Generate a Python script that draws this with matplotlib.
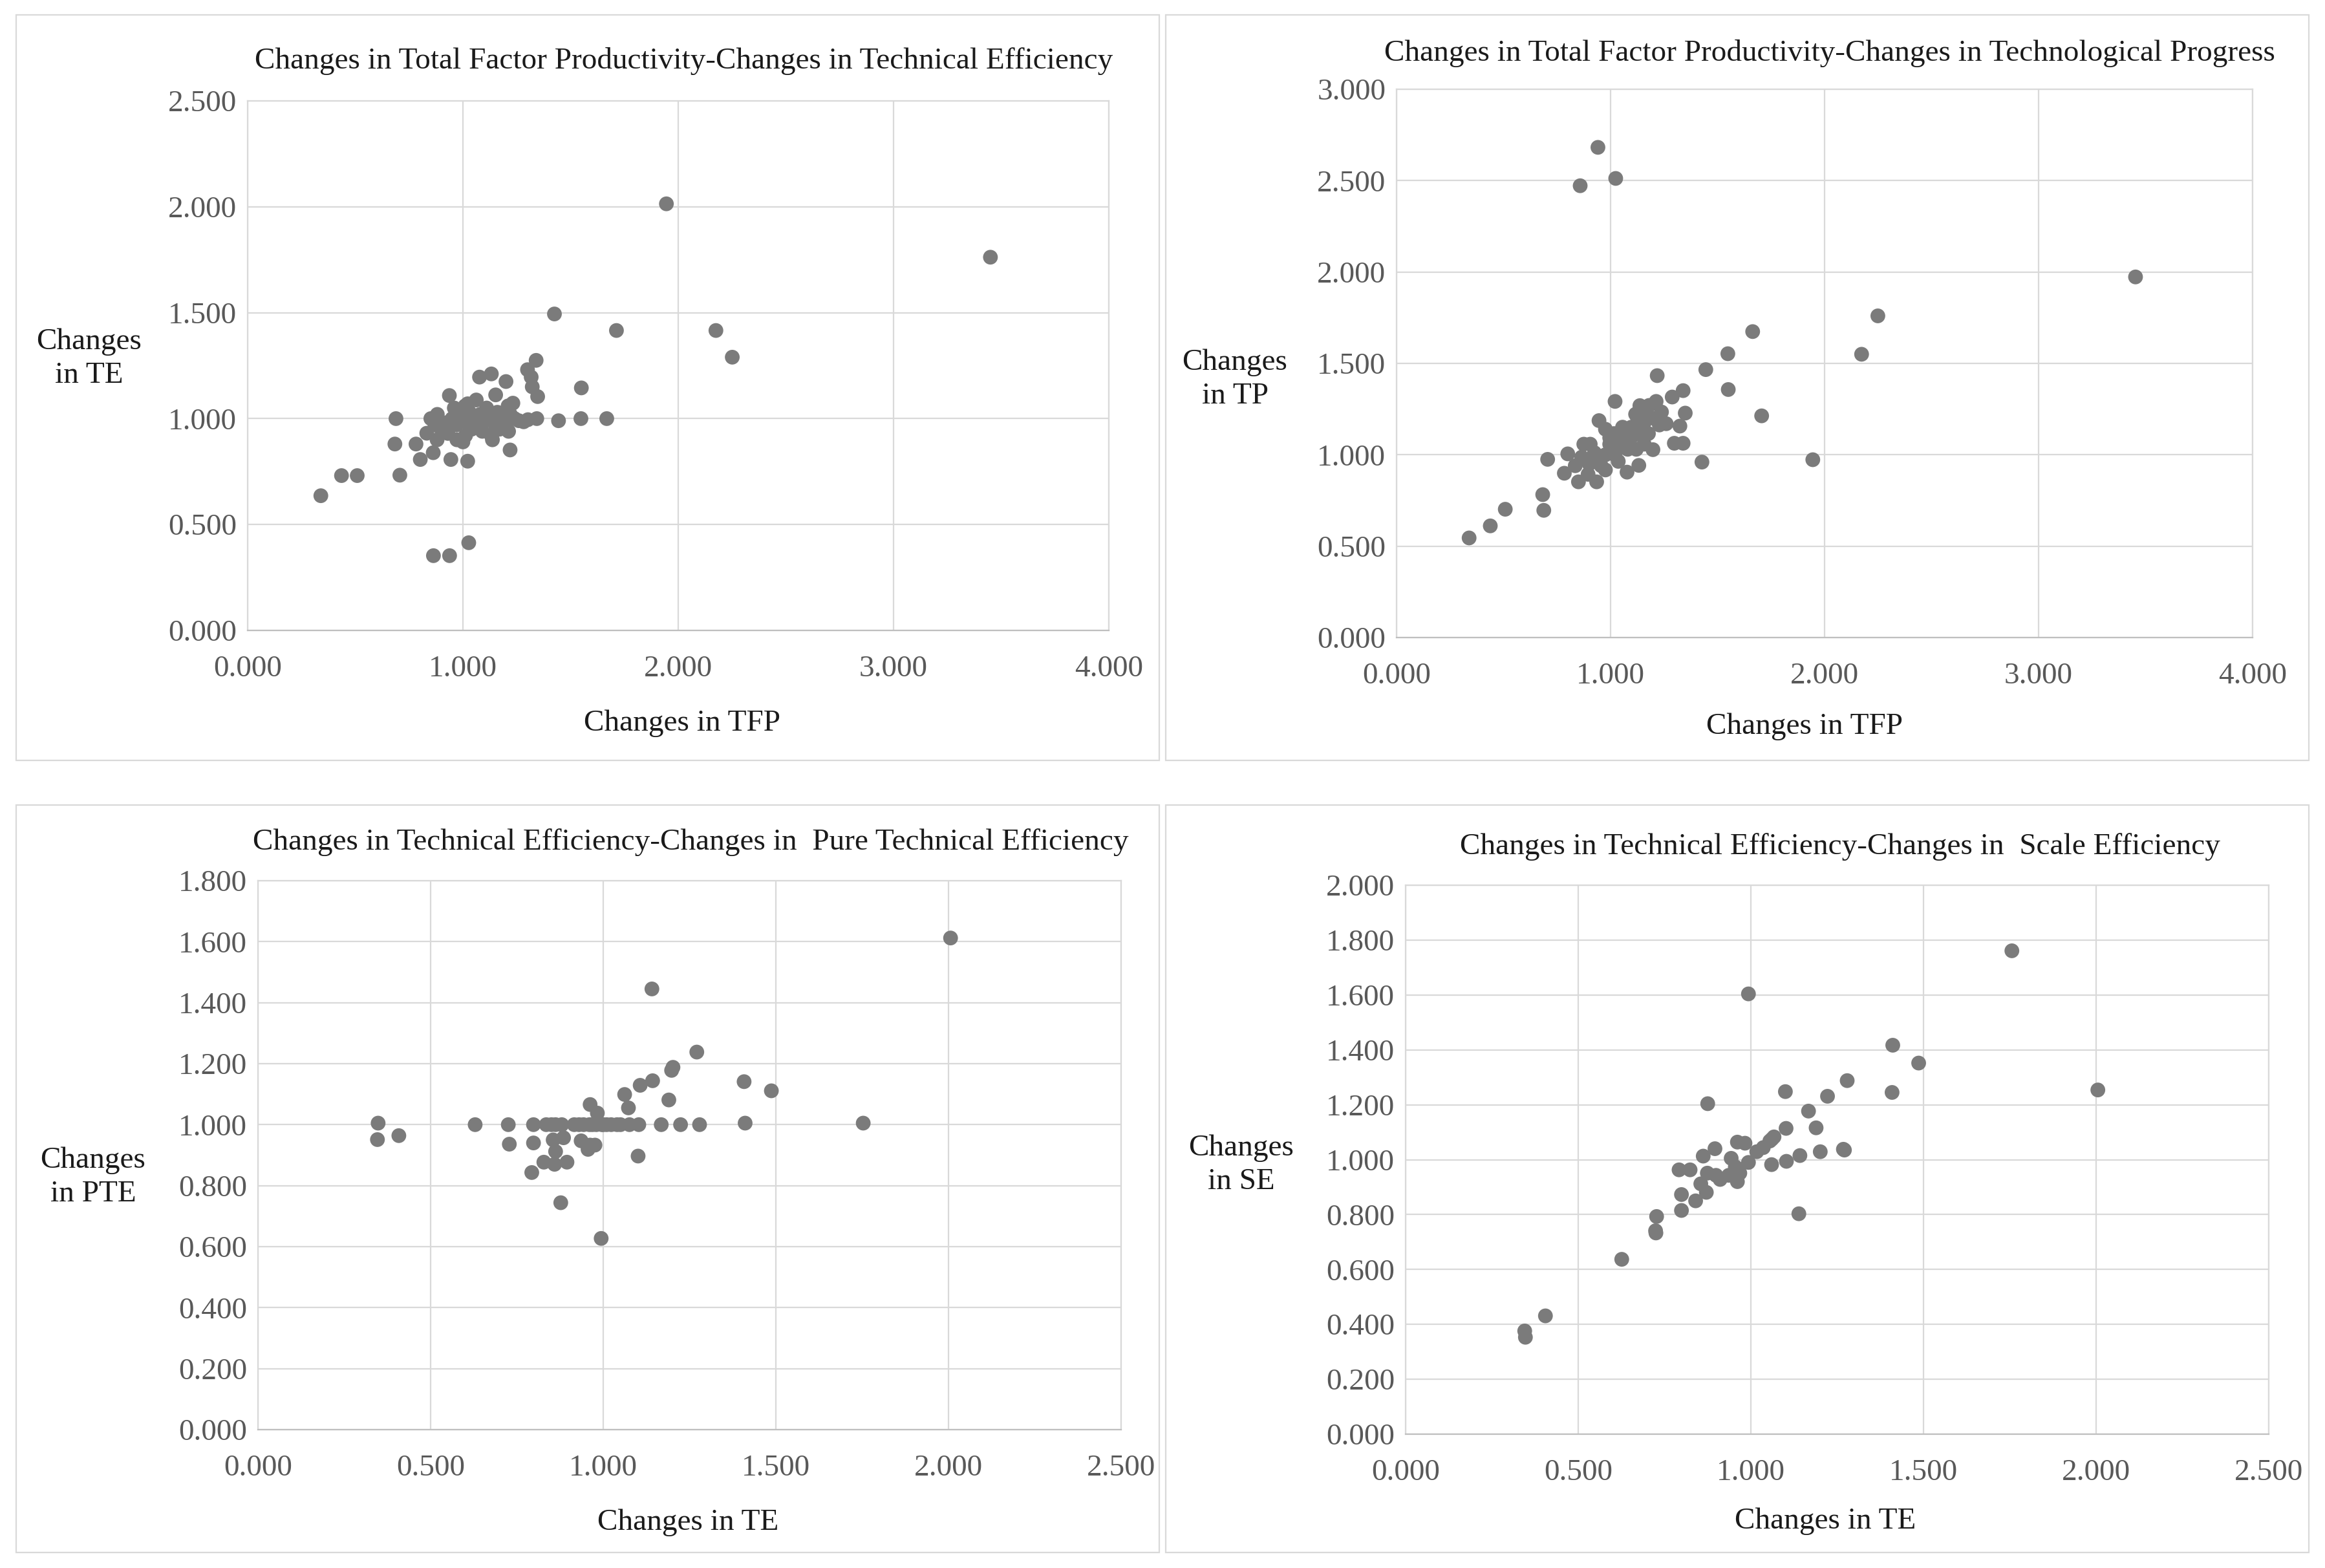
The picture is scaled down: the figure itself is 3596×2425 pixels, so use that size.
import matplotlib
matplotlib.use("Agg")
import matplotlib.pyplot as plt
from matplotlib.patches import Rectangle
from matplotlib.ticker import FormatStrFormatter, MultipleLocator

plt.rcParams['font.family'] = ['Liberation Serif', 'DejaVu Serif']

# ---------------- Data ----------------
# Panel 1: Changes in TFP (x) vs Changes in TE (y)
tfp_a = [3.450, 1.945, 2.175, 2.251, 1.713, 1.425,
         0.340, 0.436, 0.509, 0.707, 0.863, 0.938, 1.027,
         0.689, 0.684, 0.782, 0.802, 0.944, 1.022, 1.219, 0.862,
         1.340, 1.300, 1.317, 1.322, 1.347, 1.077, 1.132, 1.200, 1.550, 1.152, 0.937, 1.232, 1.062, 1.022,
         1.444, 1.548, 1.668, 1.343, 1.302, 1.282,
         0.832, 0.851, 0.881, 0.972, 1.000, 1.012, 1.132, 1.137, 1.212,
         0.90, 0.92, 0.95, 0.97, 0.98, 1.00, 1.02, 1.03, 1.05, 1.06, 1.08, 1.10, 1.11, 1.13, 1.15,
         1.16, 1.18, 1.20, 1.22, 1.24, 0.88, 0.93, 0.96, 1.04, 1.09, 1.17, 1.21, 1.26, 0.87, 1.01]
te_a = [1.762, 2.014, 1.416, 1.290, 1.416, 1.494,
        0.636, 0.731, 0.731, 0.733, 0.353, 0.353, 0.414,
        1.000, 0.880, 0.880, 0.807, 0.807, 0.799, 0.852, 0.839,
        1.275, 1.231, 1.196, 1.150, 1.104, 1.196, 1.211, 1.175, 1.145, 1.112, 1.109, 1.073, 1.088, 1.070,
        0.990, 1.000, 1.000, 1.000, 0.995, 0.985,
        0.931, 1.000, 1.020, 0.900, 0.890, 0.920, 0.920, 0.900, 0.940,
        0.95, 0.98, 1.00, 0.97, 1.02, 1.00, 0.98, 1.03, 1.00, 0.96, 1.02, 0.99, 1.05, 1.00, 0.97,
        1.03, 1.00, 0.98, 1.02, 1.00, 0.90, 0.93, 1.05, 0.95, 0.94, 0.95, 1.06, 0.99, 0.97, 1.06]

# Panel 2: Changes in TFP (x) vs Changes in TP (y)
tfp_b = [0.941, 0.858, 1.024, 3.453, 2.249, 2.173, 1.664, 1.548, 1.445, 1.550, 1.706, 1.945, 1.427, 1.218, 1.021,
         0.339, 0.438, 0.508, 0.683, 0.688, 0.706, 0.800, 0.784, 0.850, 0.935, 0.875, 0.905, 0.835, 0.895,
         0.956, 0.946, 0.976, 1.016, 1.036, 1.036, 1.077, 1.132, 1.137, 1.127, 1.137, 1.157, 1.198, 1.213,
         1.228, 1.238, 1.288, 1.339, 1.349, 1.324, 1.298, 1.339,
         0.976, 0.915, 0.996, 1.056, 1.097, 1.077, 0.976, 0.865, 0.925, 1.157, 1.177, 1.117, 1.056, 0.996,
         1.10, 1.16, 1.20, 1.08, 0.95, 1.02, 1.18, 1.15, 1.05, 0.90, 1.12, 1.26]
tp_b = [2.682, 2.472, 2.512, 1.973, 1.760, 1.550, 1.674, 1.553, 1.466, 1.357, 1.213, 0.973, 0.960, 1.433, 1.292,
        0.545, 0.611, 0.702, 0.782, 0.696, 0.975, 1.005, 0.899, 0.852, 0.852, 1.058, 1.058, 0.940, 0.893,
        0.940, 1.187, 1.140, 1.116, 1.034, 0.964, 0.905, 0.942, 1.269, 1.198, 1.116, 1.058, 1.028, 1.292,
        1.163, 1.234, 1.316, 1.351, 1.228, 1.157, 1.063, 1.063,
        1.000, 0.987, 1.058, 1.093, 1.151, 1.081, 0.917, 0.987, 1.011, 1.175, 1.116, 1.222, 1.151, 1.093,
        1.10, 1.24, 1.20, 1.03, 0.97, 1.00, 1.27, 1.15, 1.05, 0.95, 1.03, 1.17]

# Panel 3: Changes in TE (x) vs Changes in PTE (y)
te_c = [2.006, 1.141, 0.348, 0.346, 0.408, 1.753, 1.411, 1.408, 1.487, 0.629, 0.994,
        1.271, 1.202, 1.198, 1.143, 1.107, 1.062, 1.073, 1.190, 0.962, 0.983,
        0.725, 0.798, 0.835, 0.862, 0.916, 0.943, 0.969, 0.996, 1.023, 1.050, 1.076, 1.103, 1.168, 1.224, 1.279,
        0.850, 0.880, 0.930, 0.960, 0.980, 1.000, 1.010, 1.040,
        0.728, 0.798, 0.855, 0.885, 0.936, 0.962, 0.956, 0.976, 0.862, 0.828, 0.859, 0.895, 0.793, 1.101, 0.877]
pte_c = [1.612, 1.445, 1.005, 0.951, 0.964, 1.005, 1.005, 1.141, 1.111, 1.000, 0.627,
         1.238, 1.188, 1.178, 1.144, 1.129, 1.099, 1.055, 1.081, 1.066, 1.038,
         1.000, 1.000, 1.000, 1.000, 1.000, 1.000, 1.000, 1.000, 1.000, 1.000, 1.000, 1.000, 1.000, 1.000, 1.000,
         1.000, 1.000, 1.000, 1.000, 1.000, 1.000, 1.000, 1.000,
         0.936, 0.940, 0.950, 0.957, 0.947, 0.933, 0.919, 0.933, 0.912, 0.877, 0.870, 0.877, 0.843, 0.897, 0.744]

# Panel 4: Changes in TE (x) vs Changes in SE (y)
te_d = [1.756, 0.993, 1.411, 1.486, 1.409, 2.005, 0.626, 0.405, 0.345, 0.347, 0.727, 0.725, 1.271,
        0.875, 1.100, 1.279, 1.222, 1.167, 1.189, 1.102, 1.061, 1.201, 1.268, 1.142, 1.103, 1.060, 1.139,
        0.724, 0.799, 0.799, 0.792, 0.824, 0.862, 0.896, 0.840, 0.871, 0.855, 0.874, 0.911, 0.961, 0.968,
        0.961, 0.983, 0.943, 0.955, 0.993, 1.017, 1.036, 1.055, 1.067, 0.936, 0.899]
se_d = [1.761, 1.604, 1.417, 1.352, 1.245, 1.254, 0.637, 0.431, 0.376, 0.353, 0.793, 0.733, 1.035,
        1.204, 1.248, 1.288, 1.231, 1.177, 1.116, 1.114, 1.075, 1.029, 1.038, 1.015, 0.994, 0.982, 0.803,
        0.741, 0.815, 0.873, 0.963, 0.963, 1.013, 1.040, 0.850, 0.881, 0.912, 0.951, 0.928, 0.920, 0.951,
        1.064, 1.060, 1.005, 0.974, 0.990, 1.029, 1.044, 1.068, 1.083, 0.943, 0.943]

titles = ["Changes in Total Factor Productivity-Changes in Technical Efficiency",
          "Changes in Total Factor Productivity-Changes in Technological Progress",
          "Changes in Technical Efficiency-Changes in  Pure Technical Efficiency",
          "Changes in Technical Efficiency-Changes in  Scale Efficiency"]
xlabels = ["Changes in TFP", "Changes in TFP", "Changes in TE", "Changes in TE"]
ylabels = ["Changes\nin TE", "Changes\nin TP", "Changes\nin PTE", "Changes\nin SE"]

W, H = 3596, 2425
fig = plt.figure(figsize=(W / 100, H / 100), dpi=100)

def fx(px):
    return px / W

def fy(py):
    return 1 - py / H

# axes rectangles (pixels: left, top, right, bottom)
rects = [(383, 156, 1715, 975), (2160, 138, 3484, 986),
         (399, 1362, 1734, 2211), (2174, 1369, 3509, 2218)]
frames = [(25, 23, 1793, 1176), (1803, 23, 3571, 1176),
          (25, 1245, 1793, 2401), (1803, 1245, 3571, 2401)]
title_pos = [(1058, 94), (2830, 83), (1068, 1303), (2846, 1310)]
ylab_pos = [(138, 555), (1910, 587), (144, 1821), (1920, 1802)]
xlab_pos = [(1055, 1119), (2791, 1124), (1064, 2355), (2823, 2353)]
limits = [((0, 4, 1), (0, 2.5, 0.5)), ((0, 4, 1), (0, 3, 0.5)),
          ((0, 2.5, 0.5), (0, 1.8, 0.2)), ((0, 2.5, 0.5), (0, 2.0, 0.2))]
data = [(tfp_a, te_a), (tfp_b, tp_b), (te_c, pte_c), (te_d, se_d)]

grid_c = '#d9d9d9'
dot_c = '#7b7b7b'
tick_c = '#595959'

for i in range(4):
    l, t, r, b = frames[i]
    fig.patches.append(Rectangle((fx(l), fy(b)), fx(r) - fx(l), fy(t) - fy(b),
                                 transform=fig.transFigure, fill=False,
                                 edgecolor=grid_c, linewidth=1.6))
    l, t, r, b = rects[i]
    ax = fig.add_axes([fx(l), fy(b), fx(r) - fx(l), fy(t) - fy(b)])
    (x0, x1, dx), (y0, y1, dy) = limits[i]
    ax.set_xlim(x0, x1)
    ax.set_ylim(y0, y1)
    ax.xaxis.set_major_locator(MultipleLocator(dx))
    ax.yaxis.set_major_locator(MultipleLocator(dy))
    ax.xaxis.set_major_formatter(FormatStrFormatter('%.3f'))
    ax.yaxis.set_major_formatter(FormatStrFormatter('%.3f'))
    ax.grid(True, color=grid_c, linewidth=1.6, zorder=0)
    ax.set_axisbelow(True)
    for s in ax.spines.values():
        s.set_color(grid_c)
        s.set_linewidth(1.6)
    ax.spines['bottom'].set_color('#bfbfbf')
    ax.tick_params(length=0, labelsize=34, colors=tick_c, pad=12)
    ax.tick_params(axis='x', pad=28)
    xs, ys = data[i]
    ax.scatter(xs, ys, s=270, color=dot_c, edgecolors='none', zorder=3, clip_on=False)
    fig.text(fx(title_pos[i][0]), fy(title_pos[i][1]), titles[i], ha='center', va='center',
             fontsize=34, color='#1a1a1a')
    fig.text(fx(ylab_pos[i][0]), fy(ylab_pos[i][1]), ylabels[i], ha='center', va='center',
             fontsize=34, color='#1a1a1a', linespacing=1.3)
    fig.text(fx(xlab_pos[i][0]), fy(xlab_pos[i][1]), xlabels[i], ha='center', va='center',
             fontsize=34, color='#1a1a1a')

fig.savefig('out.png', dpi=100, facecolor='white')
